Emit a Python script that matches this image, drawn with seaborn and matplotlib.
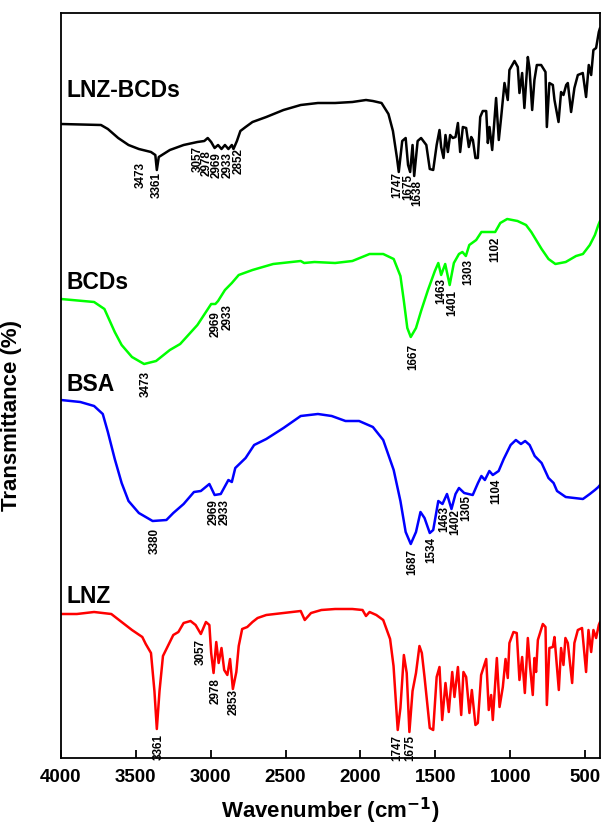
import matplotlib
matplotlib.use("Agg")
import matplotlib.pyplot as plt
import seaborn as sns
import pandas as pd

# ---------------- data (wavenumber cm-1, transmittance a.u., stacked) ----------------
lnz_bcds_wn = [4000, 3733, 3687, 3618, 3549, 3480, 3399, 3370, 3360, 3347, 3273, 3181, 3089, 3043, 3020,
               2997, 2974, 2951, 2928, 2905, 2882, 2859, 2848, 2825, 2802, 2767, 2721, 2629, 2514, 2399,
               2284, 2169, 2054, 1963, 1917, 1859, 1813, 1783, 1756, 1744, 1721, 1698, 1682, 1668, 1652,
               1641, 1618, 1595, 1560, 1537, 1514, 1491, 1472, 1461, 1445, 1432, 1416, 1401, 1383, 1365,
               1349, 1334, 1316, 1294, 1276, 1260, 1249, 1232, 1216, 1200, 1183, 1160, 1149, 1138, 1120,
               1094, 1076, 1060, 1038, 1016, 1005, 971, 949, 938, 920, 905, 882, 871, 853, 838, 822, 793,
               764, 755, 738, 715, 704, 677, 660, 644, 626, 615, 593, 571, 548, 515, 493, 475, 459, 444,
               426, 408, 400]
lnz_bcds_t = [634, 633, 629, 620, 613, 609, 606, 603, 588, 601, 608, 613, 616, 617, 620,
              616, 610, 613, 609, 613, 609, 613, 609, 617, 627, 631, 636, 641, 648, 653,
              655, 655, 656, 658, 657, 655, 644, 627, 600, 586, 617, 620, 593, 586, 613,
              582, 617, 620, 613, 589, 588, 613, 628, 611, 600, 623, 606, 623, 620, 621,
              635, 606, 631, 630, 611, 621, 618, 600, 600, 641, 647, 647, 615, 631, 608,
              660, 618, 641, 675, 658, 688, 697, 691, 665, 685, 650, 701, 690, 648, 678, 693, 693,
              686, 631, 675, 673, 658, 636, 666, 663, 673, 675, 646, 670, 683, 685, 661, 693, 683, 708,
              710, 726, 730]

bcds_wn = [4000, 3779, 3710, 3641, 3595, 3526, 3445, 3365, 3273, 3204, 3089, 2997, 2969, 2951, 2905,
           2859, 2813, 2721, 2583, 2399, 2376, 2307, 2169, 2054, 1939, 1848, 1778, 1733, 1710, 1687,
           1664, 1629, 1595, 1549, 1503, 1480, 1461, 1434, 1404, 1376, 1342, 1319, 1296, 1273, 1227,
           1192, 1123, 1100, 1066, 1020, 951, 894, 859, 790, 744, 698, 629, 560, 514, 468, 434, 411, 400]
bcds_t = [459, 456, 449, 426, 413, 401, 394, 397, 408, 414, 433, 454, 454, 457, 468,
          475, 483, 488, 494, 497, 495, 496, 495, 497, 504, 504, 499, 482, 457, 430,
          421, 430, 447, 468, 487, 495, 483, 494, 473, 495, 504, 506, 502, 513, 518,
          526, 526, 526, 535, 539, 537, 533, 526, 509, 499, 494, 496, 502, 504, 513, 523, 533, 537]

bsa_wn = [4000, 3871, 3779, 3721, 3687, 3641, 3595, 3549, 3480, 3388, 3296, 3250, 3181, 3112, 3066,
          3009, 2974, 2933, 2882, 2859, 2836, 2767, 2710, 2629, 2514, 2399, 2284, 2192, 2100, 2009,
          1917, 1848, 1778, 1733, 1698, 1664, 1629, 1599, 1572, 1537, 1514, 1480, 1452, 1422, 1392,
          1365, 1342, 1307, 1250, 1215, 1192, 1169, 1139, 1116, 1077, 1043, 997, 962, 928, 900, 870,
          836, 790, 744, 710, 687, 629, 514, 468, 434, 411, 400]
bsa_t = [358, 356, 352, 344, 326, 299, 275, 257, 245, 237, 238, 245, 254, 266, 267,
         274, 263, 264, 278, 276, 290, 300, 313, 319, 330, 342, 344, 342, 337, 337,
         331, 318, 288, 257, 226, 214, 226, 246, 240, 225, 228, 257, 254, 264, 249,
         264, 270, 265, 263, 275, 282, 278, 287, 283, 287, 299, 313, 318, 314, 317, 313,
         302, 295, 280, 275, 267, 261, 259, 264, 268, 271, 273]

lnz_wn = [4000, 3894, 3779, 3664, 3595, 3526, 3457, 3434, 3399, 3376, 3360, 3342, 3319, 3250, 3216,
          3181, 3135, 3101, 3066, 3032, 3009, 2997, 2981, 2963, 2947, 2928, 2910, 2889, 2871, 2852,
          2829, 2813, 2790, 2756, 2721, 2687, 2629, 2514, 2399, 2372, 2330, 2261, 2169, 2054, 1986,
          1963, 1939, 1894, 1848, 1802, 1779, 1751, 1733, 1710, 1691, 1673, 1652, 1629, 1606, 1590,
          1572, 1537, 1514, 1491, 1472, 1454, 1432, 1410, 1387, 1372, 1349, 1327, 1312, 1294, 1272,
          1256, 1232, 1216, 1194, 1160, 1143, 1127, 1116, 1089, 1071, 1049, 1031, 1016, 1005, 978,
          956, 938, 920, 902, 882, 867, 849, 838, 827, 815, 782, 764, 755, 738, 715, 704, 675, 660,
          644, 631, 615, 586, 571, 548, 520, 493, 477, 459, 444, 426, 408, 400]
lnz_t = [144, 144, 146, 144, 136, 128, 121, 114, 105, 67, 29, 67, 102, 123, 126,
         135, 137, 133, 124, 136, 133, 105, 85, 116, 95, 110, 88, 83, 99, 69,
         86, 112, 129, 131, 136, 140, 143, 145, 147, 138, 145, 148, 149, 149, 148,
         142, 146, 143, 138, 119, 92, 28, 50, 103, 85, 26, 67, 85, 112, 105,
         81, 30, 28, 81, 91, 38, 75, 46, 86, 61, 91, 43, 86, 81, 45,
         68, 33, 35, 83, 99, 48, 63, 38, 100, 51, 71, 99, 80, 115, 126,
         125, 78, 101, 65, 120, 91, 63, 100, 86, 118, 134, 131, 53, 110, 111, 121, 68, 110,
         93, 120, 115, 75, 115, 128, 130, 86, 128, 106, 128, 120, 133, 136]

# sample names and their positions
names = ["LNZ-BCDs", "BCDs", "BSA", "LNZ"]
name_wn = [3962, 3962, 3962, 3962]
name_t = [668, 476, 374, 162]
colors = ["black", "#00ff00", "#0000ff", "#ff0000"]

# peak annotations: text, x (cm-1), top of text (a.u.)
peak_text = ["3473", "3361", "3057", "2978", "2969", "2933", "2852", "1747", "1675", "1638",
             "3473", "2969", "2933", "1667", "1463", "1401", "1303", "1102",
             "3380", "2969", "2933", "1687", "1534", "1463", "1402", "1305", "1104",
             "3361", "3057", "2978", "2853", "1747", "1675"]
peak_wn = [3468, 3358, 3087, 3025, 2963, 2889, 2814, 1752, 1682, 1619,
           3435, 2970, 2889, 1645, 1462, 1388, 1278, 1100,
           3376, 2981, 2910, 1652, 1525, 1438, 1365, 1290, 1091,
           3349, 3067, 2970, 2847, 1752, 1669]
peak_top = [596, 586, 612, 608, 606, 606, 610, 586, 584, 578,
            387, 447, 454, 414, 480, 468, 499, 521,
            230, 259, 259, 209, 221, 252, 249, 263, 279,
            24, 119, 80, 69, 23, 23]

xticks = [4000, 3500, 3000, 2500, 2000, 1500, 1000, 500]

# ---------------- plotting ----------------
sns.set_style("ticks")
plt.rcParams["font.family"] = ["Liberation Sans", "DejaVu Sans"]
plt.rcParams["text.color"] = "black"
plt.rcParams["axes.labelcolor"] = "black"
plt.rcParams["xtick.color"] = "black"

fig = plt.figure(figsize=(6.01, 8.30), dpi=100)
ax = fig.add_axes([61 / 601, 1 - 758 / 830, 539 / 601, 745 / 830])

series = [(lnz_bcds_wn, lnz_bcds_t), (bcds_wn, bcds_t), (bsa_wn, bsa_t), (lnz_wn, lnz_t)]
for (wn, t), c in zip(series, colors):
    df = pd.DataFrame({"wn": wn, "t": t})
    sns.lineplot(data=df, x="wn", y="t", color=c, lw=1.8, sort=False, estimator=None, ax=ax)

for n, x, y in zip(names, name_wn, name_t):
    ax.text(x, y, n, fontsize=16.5, fontweight="bold", ha="left", va="center", color="black")

for s, x, y in zip(peak_text, peak_wn, peak_top):
    ax.text(x, y, s, fontsize=8.4, fontweight="bold", rotation=90, ha="center", va="top", color="black")

ax.set_xlim(4000, 400)
ax.set_ylim(0, 745)
ax.set_xticks(xticks)
ax.set_xticklabels([str(v) for v in xticks], fontsize=13.5, fontweight="bold")
ax.set_yticks([])
ax.tick_params(axis="x", direction="in", length=6, width=1.3, pad=8, top=False, colors="black")
for sp in ax.spines.values():
    sp.set_linewidth(1.3)
    sp.set_color("black")
ax.set_xlabel("Wavenumber (cm$^{\\mathbf{-1}}$)", fontsize=16, fontweight="bold", labelpad=7)
ax.set_ylabel("Transmittance (%)", fontsize=16, fontweight="bold")
ax.yaxis.set_label_coords(-0.072, 0.46)

fig.savefig("out.png", dpi=100)
